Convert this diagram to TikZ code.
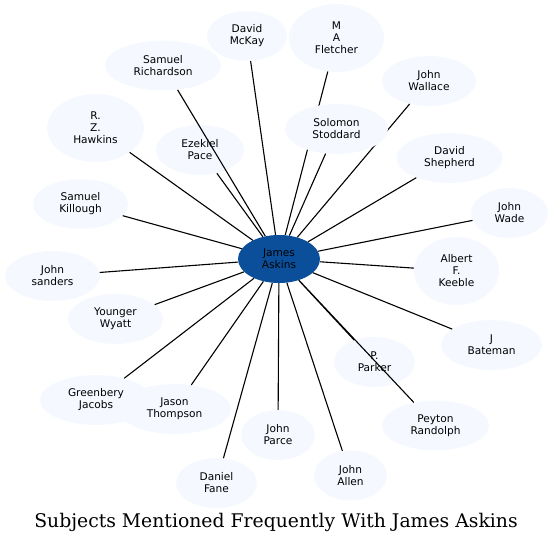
\documentclass[tikz,border=0pt]{standalone}
\usepackage{fontspec}
\usepackage{xcolor}
\usepackage{tikz}
\usetikzlibrary{shapes.geometric}
\newfontfamily\nodefont{DejaVu Sans}
\newfontfamily\titlefont{DejaVu Serif}
\definecolor{askinsblue}{RGB}{11,79,155}
\definecolor{leafblue}{RGB}{245,249,255}

\begin{document}
\begin{tikzpicture}[x=1pt,y=-1pt,
  person/.style={ellipse,fill=leafblue,inner sep=0pt,align=center,
    font=\nodefont\fontsize{10.6}{12}\selectfont},
  focus/.style={person,fill=askinsblue},
  link/.style={line width=1.1pt,black}]
  \useasboundingbox (0,0) rectangle (553,544);
  % people around the centre
  \node[person,minimum width=80,minimum height=50] (mckay) at (247,36) {David\\McKay};
  \node[person,minimum width=116,minimum height=50] (richardson) at (163,65.5) {Samuel\\Richardson};
  \node[person,minimum width=97,minimum height=68] (hawkins) at (95.5,128) {R.\\Z.\\Hawkins};
  \node[person,minimum width=88,minimum height=50] (pace) at (200,150) {Ezekiel\\Pace};
  \node[person,minimum width=95,minimum height=50] (killough) at (80.5,204) {Samuel\\Killough};
  \node[person,minimum width=95,minimum height=68] (fletcher) at (336.5,38) {M\\A\\Fletcher};
  \node[person,minimum width=94,minimum height=50] (wallace) at (429,81) {John\\Wallace};
  \node[person,minimum width=106,minimum height=50] (shepherd) at (449.5,158) {David\\Shepherd};
  \node[person,minimum width=77,minimum height=50] (wade) at (509.5,213) {John\\Wade};
  \node[person,minimum width=95,minimum height=50] (sanders) at (52.5,276) {John\\sanders};
  \node[person,minimum width=95,minimum height=50] (wyatt) at (115.5,319) {Younger\\Wyatt};
  \node[person,minimum width=112,minimum height=50] (jacobs) at (96,400) {Greenbery\\Jacobs};
  \node[person,minimum width=113,minimum height=50] (thompson) at (174.5,409) {Jason\\Thompson};
  \node[person,minimum width=81,minimum height=50] (fane) at (216.5,483) {Daniel\\Fane};
  \node[person,minimum width=74,minimum height=50] (parce) at (278,435) {John\\Parce};
  \node[person,minimum width=85,minimum height=68] (keeble) at (456.5,271) {Albert\\F.\\Keeble};
  \node[person,minimum width=101,minimum height=50] (bateman) at (491.5,345) {J\\Bateman};
  \node[person,minimum width=81,minimum height=50] (parker) at (374.5,362) {P.\\Parker};
  \node[person,minimum width=107,minimum height=50] (randolph) at (435.5,425.5) {Peyton\\Randolph};
  \node[person,minimum width=73,minimum height=50] (allen) at (350.5,475.5) {John\\Allen};
  \node[focus,minimum width=82,minimum height=48] (askins) at (279,259) {James\\Askins};
  % links
  \draw[link] (askins) -- (mckay) (askins) -- (richardson) (askins) -- (hawkins)
    (askins) -- (pace) (askins) -- (killough) (askins) -- (fletcher)
    (askins) -- (wallace) (askins) -- (shepherd) (askins) -- (wade)
    (askins) -- (sanders) (askins) -- (wyatt) (askins) -- (jacobs)
    (askins) -- (thompson) (askins) -- (fane) (askins) -- (parce)
    (askins) -- (keeble) (askins) -- (bateman) (askins) -- (parker)
    (askins) -- (randolph) (askins) -- (allen);
  \node[person,minimum width=103,minimum height=50] (stoddard) at (336.5,129) {Solomon\\Stoddard};
  \draw[link] (askins) -- (stoddard);
  \node[font=\titlefont\fontsize{18.8}{20}\selectfont] (title) at (276,522)
    {Subjects Mentioned Frequently With James Askins};
\end{tikzpicture}
\end{document}
